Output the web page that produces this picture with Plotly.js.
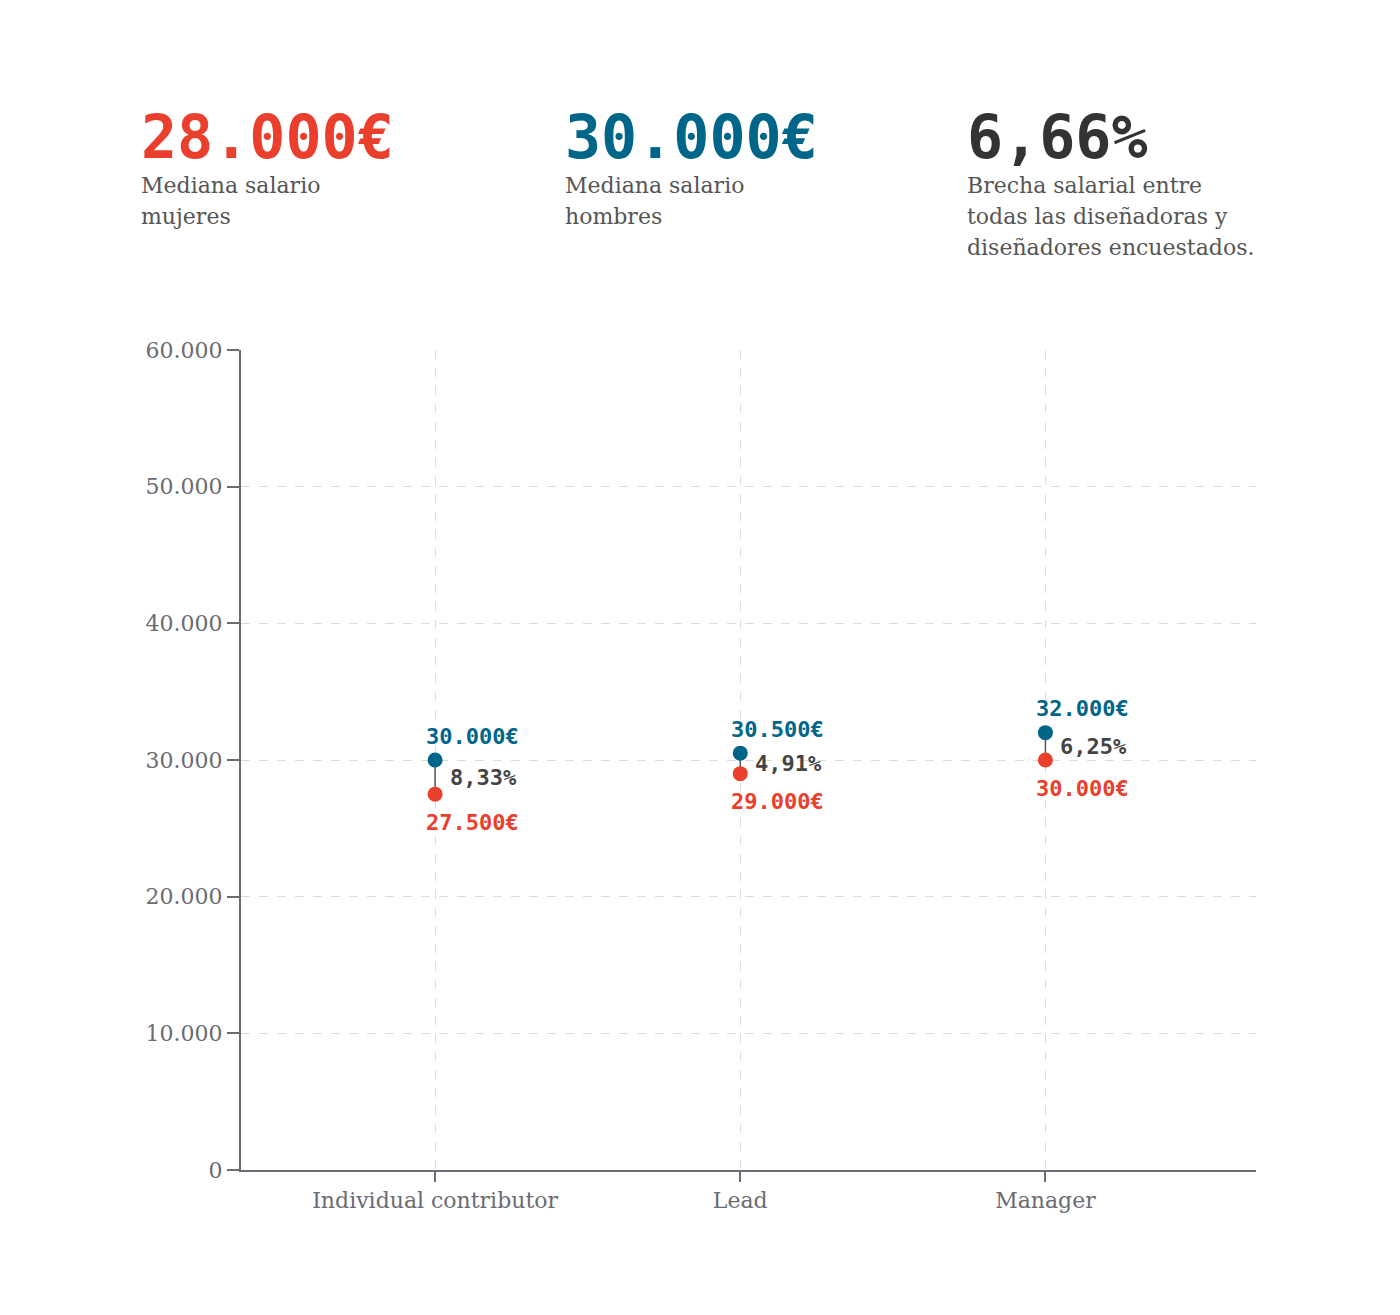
<!DOCTYPE html>
<html>
<head>
<meta charset="utf-8">
<script src="https://cdn.plot.ly/plotly-3.0.1.min.js"></script>
<style>html,body{margin:0;padding:0;background:#fff;}#chart{width:1400px;height:1315px;}</style>
</head>
<body>
<div id="chart"></div>
<script>
const categories = ["Individual contributor", "Lead", "Manager"];
const menSalary = [30000, 30500, 32000];
const womenSalary = [27500, 29000, 30000];
const menLabels = ["30.000€", "30.500€", "32.000€"];
const womenLabels = ["27.500€", "29.000€", "30.000€"];
const gapLabels = ["8,33%", "4,91%", "6,25%"];
const yTicks = [0, 10000, 20000, 30000, 40000, 50000, 60000];

const RED = "#ea3f2c";
const BLUE = "#006689";
const DARK = "#333333";
const GRAY = "#6b6b73";
const MONO = "DejaVu Sans Mono, monospace";
const SERIF = "DejaVu Serif, serif";

const idx = categories.map((c, i) => i);

// connectors
const cx = [], cy = [];
idx.forEach(i => { cx.push(i, i, null); cy.push(menSalary[i], womenSalary[i], null); });

const traces = [
  {x: cx, y: cy, mode: "lines", line: {color: "#555", width: 1.5}, hoverinfo: "skip", showlegend: false},
  {x: idx, y: womenSalary, mode: "markers", marker: {color: RED, size: 15}, showlegend: false},
  {x: idx, y: menSalary, mode: "markers", marker: {color: BLUE, size: 15}, showlegend: false}
];

const annotations = [];
idx.forEach(i => {
  annotations.push({
    x: i, y: (menSalary[i] + womenSalary[i]) / 2, xref: "x", yref: "y",
    text: gapLabels[i], showarrow: false, xanchor: "left", yanchor: "middle", xshift: 13,
    font: {family: MONO, size: 22, color: "#444", weight: "bold"}
  });
  annotations.push({
    x: i, y: menSalary[i], xref: "x", yref: "y",
    text: menLabels[i], showarrow: false, xanchor: "left", yanchor: "middle", xshift: -11, yshift: 24,
    font: {family: MONO, size: 22, color: BLUE, weight: "bold"}
  });
  annotations.push({
    x: i, y: womenSalary[i], xref: "x", yref: "y",
    text: womenLabels[i], showarrow: false, xanchor: "left", yanchor: "middle", xshift: -11, yshift: -28,
    font: {family: MONO, size: 22, color: RED, weight: "bold"}
  });
});

function px2paperX(px) { return (px - 241) / 1015; }
function px2paperY(py) { return (1170 - py) / 820; }

const header = [
  {px: 141, text: "28.000€", color: RED, lines: ["Mediana salario", "mujeres"]},
  {px: 565, text: "30.000€", color: BLUE, lines: ["Mediana salario", "hombres"]},
  {px: 967, text: "6,66%", color: DARK, lines: ["Brecha salarial entre", "todas las diseñadoras y", "diseñadores encuestados."]}
];
header.forEach(h => {
  annotations.push({x: px2paperX(h.px - 2), y: px2paperY(174), xref: "paper", yref: "paper",
    xanchor: "left", yanchor: "bottom", showarrow: false, text: h.text,
    font: {family: MONO, size: 60, color: h.color, weight: "bold"}});
  h.lines.forEach((l, j) => {
    annotations.push({x: px2paperX(h.px - 2), y: px2paperY(171 + 31 * j), xref: "paper", yref: "paper",
      xanchor: "left", yanchor: "top", showarrow: false, text: l,
      font: {family: SERIF, size: 22, color: "#555"}});
  });
});

const layout = {
  width: 1400, height: 1315,
  margin: {l: 241, r: 144, t: 350, b: 145},
  paper_bgcolor: "#fff", plot_bgcolor: "#fff",
  separators: ",.",
  showlegend: false,
  xaxis: {
    range: [-0.636, 2.69], tickvals: idx, ticktext: categories,
    showgrid: true, gridcolor: "#dcdcdc", griddash: "dash", gridwidth: 1,
    showline: true, linecolor: GRAY, linewidth: 2,
    ticks: "outside", ticklen: 10, tickwidth: 2, tickcolor: GRAY,
    tickfont: {family: SERIF, size: 22, color: GRAY}, zeroline: false
  },
  yaxis: {
    range: [0, 60000], tickvals: yTicks, tickformat: ",d",
    showgrid: true, gridcolor: "#dcdcdc", griddash: "dash", gridwidth: 1,
    showline: true, linecolor: GRAY, linewidth: 2,
    ticks: "outside", ticklen: 12, tickwidth: 2, tickcolor: GRAY,
    tickfont: {family: SERIF, size: 22, color: GRAY}, zeroline: false
  },
  annotations: annotations
};

Plotly.newPlot("chart", traces, layout, {displayModeBar: false, staticPlot: true});
</script>
</body>
</html>
